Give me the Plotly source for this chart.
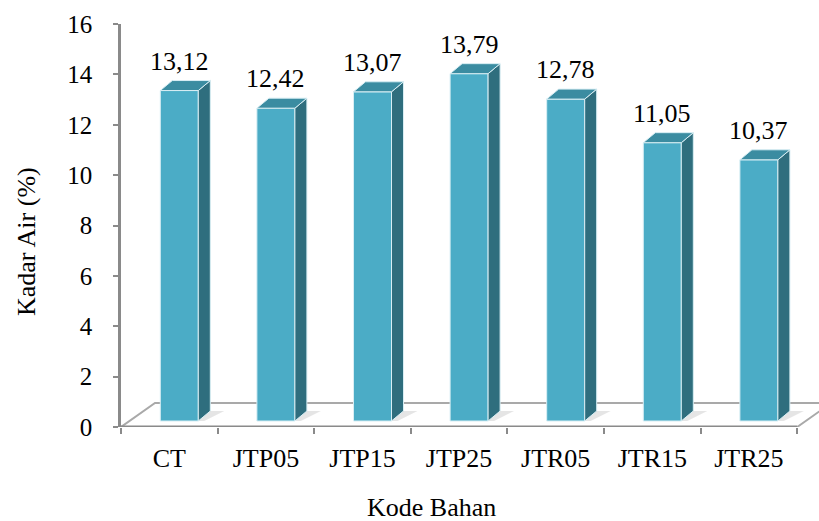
import plotly.graph_objects as go

# Moisture content per material code
categories = ["CT", "JTP05", "JTP15", "JTP25", "JTR05", "JTR15", "JTR25"]
values = [13.12, 12.42, 13.07, 13.79, 12.78, 11.05, 10.37]
y_ticks = [0, 2, 4, 6, 8, 10, 12, 14, 16]

W, H = 819, 521
M_L, M_R, M_T, M_B = 121, 0, 24, 94
PLOT_W = W - M_L - M_R
PLOT_H = H - M_T - M_B
Y_MAX = 16
PX_PER_CAT = 96.6
X_MIN = -0.5
X_MAX = X_MIN + PLOT_W / PX_PER_CAT
PX_PER_Y = PLOT_H / Y_MAX


def px_x(p):
    return p / PX_PER_CAT


def px_y(p):
    return p / PX_PER_Y


# oblique projection offsets (pixels)
FLOOR_DX, FLOOR_DY = 34, 24
BAR_L, BAR_R = -9, 29
BAR_BASE = 6
BAR_DX, BAR_DY = 12, 10

FRONT = "#4bacc6"
SIDE = "#2f6e7e"
TOP = "#3b8ca1"
EDGE = "#d8eef4"
FONT = "Times New Roman, Liberation Serif, serif"

fig = go.Figure()


def poly(xs, ys, fill, line_color, line_width):
    fig.add_trace(go.Scatter(
        x=xs + [xs[0]], y=ys + [ys[0]], mode="lines", fill="toself",
        fillcolor=fill, line=dict(color=line_color, width=line_width),
        hoverinfo="skip", showlegend=False))


# floor
n = len(categories)
x0, x1 = -0.5, n - 0.5
fdx, fdy = px_x(FLOOR_DX), px_y(FLOOR_DY)
poly([x0, x1, x1 + fdx, x0 + fdx], [0, 0, fdy, fdy], "white", "#a9a9a9", 2)
fig.add_trace(go.Scatter(x=[x0, x1], y=[0, 0], mode="lines",
                         line=dict(color="#8a8a8a", width=3),
                         hoverinfo="skip", showlegend=False))

# bars
b = px_y(BAR_BASE)
dx, dy = px_x(BAR_DX), px_y(BAR_DY)
for i, v in enumerate(values):
    xl = i + px_x(BAR_L)
    xr = i + px_x(BAR_R)
    top = b + v
    # soft shadow on the floor
    poly([xr, xr + dx, xr + dx + px_x(14), xr + px_x(6)],
         [b, b + dy, b + dy, b], "rgba(0,0,0,0.10)", "rgba(0,0,0,0)", 0)
    poly([xl, xr, xr, xl], [b, b, top, top], FRONT, EDGE, 1)
    poly([xr, xr + dx, xr + dx, xr], [b, b + dy, top + dy, top], SIDE, EDGE, 1)
    poly([xl, xr, xr + dx, xl + dx], [top, top, top + dy, top + dy], TOP, EDGE, 1)
    fig.add_annotation(
        x=(xl + xr) / 2, y=top + dy, text=f"{v:.2f}".replace(".", ","),
        showarrow=False, yanchor="bottom", yshift=3,
        font=dict(family=FONT, size=26, color="black"))

# boundary tick marks on an overlaid axis
fig.update_layout(
    xaxis=dict(range=[X_MIN, X_MAX], tickvals=list(range(n)), ticktext=categories,
               showgrid=False, zeroline=False, showline=False, ticks="",
               ticklabelstandoff=13,
               tickfont=dict(family=FONT, size=26, color="black")),
    xaxis2=dict(matches="x", overlaying="x", side="bottom",
                range=[X_MIN, X_MAX],
                tickvals=[k - 0.5 for k in range(n + 1)], showticklabels=False,
                ticks="outside", ticklen=6, tickwidth=2, tickcolor="#8a8a8a",
                showgrid=False, zeroline=False, showline=False),
    yaxis=dict(range=[0, Y_MAX], tickvals=y_ticks, showgrid=False, zeroline=False,
               showline=True, linecolor="#8a8a8a", linewidth=2.5,
               ticks="outside", ticklen=5, tickwidth=2, tickcolor="#8a8a8a",
               ticklabelstandoff=16,
               tickfont=dict(family=FONT, size=25, color="black")),
    width=W, height=H,
    margin=dict(l=M_L, r=M_R, t=M_T, b=M_B),
    plot_bgcolor="white", paper_bgcolor="white",
)
fig.add_trace(go.Scatter(x=[X_MIN], y=[0], xaxis="x2", mode="markers",
                         marker=dict(opacity=0), hoverinfo="skip", showlegend=False))

fig.add_annotation(text="Kode Bahan", xref="paper", yref="paper",
                   x=(431 - M_L) / PLOT_W, y=(M_T + PLOT_H - 507) / PLOT_H,
                   showarrow=False, xanchor="center", yanchor="middle",
                   font=dict(family=FONT, size=26, color="black"))
fig.add_annotation(text="Kadar Air (%)", xref="paper", yref="paper",
                   x=(26 - M_L) / PLOT_W, y=(M_T + PLOT_H - 242) / PLOT_H,
                   textangle=-90, showarrow=False, xanchor="center", yanchor="middle",
                   font=dict(family=FONT, size=26, color="black"))

fig.write_html("out.html")
